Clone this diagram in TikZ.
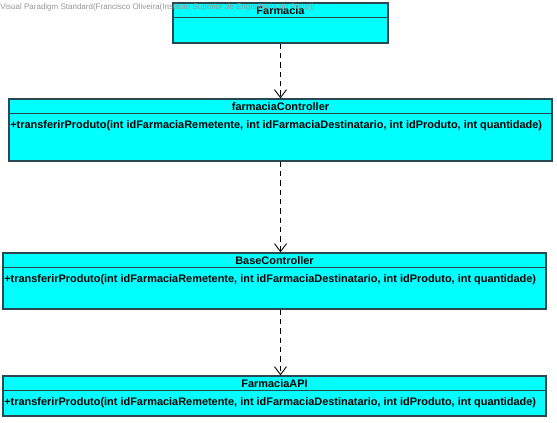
\documentclass[tikz,border=0pt]{standalone}
\usepackage{fontspec}
\setmainfont{Liberation Sans}
\usetikzlibrary{positioning, arrows.meta}
\definecolor{classfill}{RGB}{0,255,255}
\definecolor{classline}{RGB}{40,72,82}
\definecolor{markgray}{RGB}{150,150,150}
\newcommand{\transfop}{+transferirProduto(int idFarmaciaRemetente, int idFarmaciaDestinatario, int idProduto, int quantidade)}
\tikzset{
  classbox/.style={draw=classline, fill=classfill, line width=0.9pt, inner sep=0pt},
  classname/.style={font=\fontsize{8.2}{9}\selectfont\bfseries, inner sep=0pt},
  method/.style={font=\fontsize{8.2}{9}\selectfont\bfseries, inner xsep=1.2pt, inner ysep=5.5pt, anchor=north west},
  divider/.style={draw=classline, line width=0.8pt},
  depend/.style={dashed, dash pattern=on 4pt off 3pt, line width=0.7pt, -{Straight Barb[length=6pt,width=9pt,line width=0.7pt]}},
  watermark/.style={font=\fontsize{6}{6}\selectfont, text=markgray, inner sep=0pt, anchor=west}
}

\begin{document}
\begin{tikzpicture}[x=0.75pt, y=-0.75pt]
        \useasboundingbox (0,0) rectangle (557,422);
        % Class boxes
        \node[classbox, minimum width=161.25pt, minimum height=30pt] (farmacia) at (280.5,23) {};
        \node[classbox, minimum width=407.25pt, minimum height=46.5pt] (fctrl) at (280.5,130) {};
        \node[classbox, minimum width=407.25pt, minimum height=42pt] (base) at (274.5,281) {};
        \node[classbox, minimum width=407.25pt, minimum height=30pt] (api) at (274.5,396) {};
        % Header lines
        \draw[divider] ([yshift=-11.25pt]farmacia.north west) -- ([yshift=-11.25pt]farmacia.north east);
        \draw[divider] ([yshift=-11.25pt]fctrl.north west) -- ([yshift=-11.25pt]fctrl.north east);
        \draw[divider] ([yshift=-11.25pt]base.north west) -- ([yshift=-11.25pt]base.north east);
        \draw[divider] ([yshift=-11.25pt]api.north west) -- ([yshift=-11.25pt]api.north east);
        % Class names
        \node[classname] (farmacianame) at ([yshift=-5.8pt]farmacia.north) {Farmacia};
        \node[classname] (fctrlname) at ([yshift=-5.8pt]fctrl.north) {farmaciaController};
        \node[classname] (basename) at ([yshift=-5.8pt]base.north) {BaseController};
        \node[classname] (apiname) at ([yshift=-5.8pt]api.north) {FarmaciaAPI};
        % Operations
        \node[method] (fctrlop) at ([yshift=-11.25pt]fctrl.north west) {\transfop};
        \node[method] (baseop) at ([yshift=-11.25pt]base.north west) {\transfop};
        \node[method] (apiop) at ([yshift=-11.25pt]api.north west) {\transfop};
        % Dependencies
        \draw[depend] (farmacia.south) -- (fctrl.north);
        \draw[depend] (fctrl.south) -- (fctrl.south |- base.north);
        \draw[depend] (fctrl.south |- base.south) -- (fctrl.south |- api.north);
        % Watermark
        \node[watermark] (mark) at (0,7) {Visual Paradigm Standard(Francisco Oliveira(Instituto Superior de Engenharia do Porto))};
\end{tikzpicture}
\end{document}
